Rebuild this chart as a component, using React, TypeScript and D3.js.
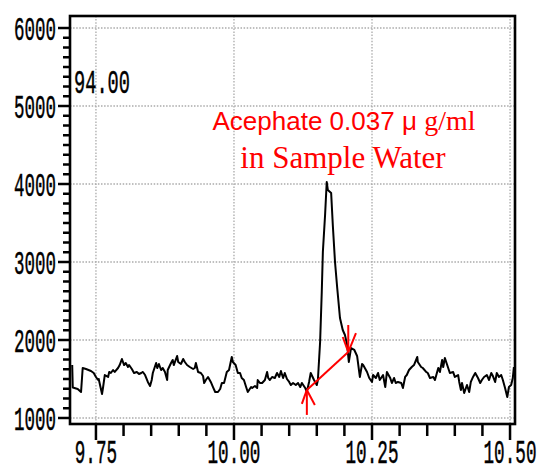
import * as d3 from "d3";

// retention time (min) and abundance
const times = [
  9.707, 9.708, 9.717, 9.723, 9.726, 9.732, 9.741, 9.746, 9.75, 9.754, 9.755, 9.761, 9.763, 9.766,
  9.772, 9.774, 9.777, 9.781, 9.784, 9.79, 9.793, 9.797, 9.801, 9.804, 9.808, 9.81, 9.815, 9.819,
  9.824, 9.828, 9.832, 9.835, 9.839, 9.844, 9.848, 9.851, 9.853, 9.859, 9.861, 9.864, 9.868, 9.871,
  9.875, 9.879, 9.88, 9.886, 9.889, 9.891, 9.897, 9.899, 9.904, 9.908, 9.911, 9.915, 9.92, 9.926,
  9.929, 9.931, 9.935, 9.94, 9.944, 9.946, 9.949, 9.953, 9.958, 9.962, 9.966, 9.971, 9.975, 9.978,
  9.982, 9.987, 9.991, 9.996, 9.998, 10.003, 10.007, 10.011, 10.014, 10.018, 10.022, 10.025, 10.031,
  10.033, 10.038, 10.042, 10.043, 10.047, 10.051, 10.056, 10.06, 10.062, 10.065, 10.069, 10.074,
  10.078, 10.082, 10.085, 10.089, 10.092, 10.096, 10.1, 10.103, 10.107, 10.112, 10.116, 10.12,
  10.123, 10.129, 10.132, 10.136, 10.139, 10.145, 10.15, 10.152, 10.156, 10.159, 10.161, 10.165,
  10.168, 10.17, 10.176, 10.179, 10.183, 10.187, 10.192, 10.197, 10.201, 10.205, 10.208, 10.212,
  10.218, 10.223, 10.228, 10.232, 10.234, 10.238, 10.241, 10.245, 10.25, 10.252, 10.257, 10.261,
  10.264, 10.27, 10.274, 10.277, 10.283, 10.286, 10.29, 10.293, 10.297, 10.303, 10.306, 10.31,
  10.313, 10.317, 10.322, 10.326, 10.332, 10.333, 10.339, 10.342, 10.348, 10.351, 10.355, 10.361,
  10.364, 10.37, 10.373, 10.377, 10.379, 10.382, 10.388, 10.391, 10.397, 10.4, 10.406, 10.408,
  10.411, 10.413, 10.417, 10.422, 10.426, 10.429, 10.433, 10.437, 10.442, 10.446, 10.449, 10.453,
  10.458, 10.462, 10.466, 10.469, 10.473, 10.476, 10.48, 10.484, 10.487, 10.491, 10.495, 10.498,
  10.502, 10.505, 10.507,
];
const abundance = [
  1680, 1390, 1372, 1333, 1641, 1628, 1603, 1577, 1526, 1487, 1500, 1308, 1397, 1551,
  1526, 1590, 1577, 1615, 1590, 1641, 1679, 1756, 1679, 1705, 1654, 1679, 1628, 1577,
  1590, 1564, 1577, 1590, 1551, 1462, 1410, 1487, 1577, 1705, 1641, 1692, 1615, 1641,
  1590, 1487, 1615, 1705, 1744, 1679, 1795, 1718, 1692, 1756, 1718, 1679, 1654, 1628,
  1641, 1705, 1590, 1577, 1538, 1449, 1487, 1526, 1462, 1397, 1333, 1333, 1372, 1449,
  1449, 1590, 1615, 1782, 1718, 1679, 1577, 1577, 1513, 1487, 1397, 1333, 1397,
  1385, 1410, 1385, 1487, 1449, 1449, 1487, 1590, 1513, 1487, 1526, 1513,
  1577, 1526, 1603, 1513, 1577, 1500, 1462, 1423, 1449, 1423, 1449, 1397,
  1449, 1385, 1333, 1462, 1577, 1487, 1423, 1487, 1974, 2615, 3128, 3602,
  4026, 3923, 3885, 3474, 3000, 2667, 2282, 2128, 2064, 1936, 1718, 1897,
  1872, 1795, 1526, 1692, 1679, 1628, 1590, 1513, 1462, 1551, 1513, 1577,
  1487, 1551, 1397, 1590, 1513, 1449, 1513, 1449, 1462, 1449, 1385, 1526,
  1551, 1615, 1654, 1679, 1782, 1718, 1654, 1641, 1590, 1577, 1513, 1526,
  1487, 1641, 1590, 1744, 1654, 1769, 1641, 1577, 1590, 1526, 1551, 1462,
  1359, 1449, 1321, 1423, 1333, 1462, 1526, 1577, 1513, 1449, 1487, 1526,
  1551, 1487, 1577, 1538, 1462, 1577, 1526, 1551, 1487, 1385, 1269, 1397,
  1423, 1513, 1654,
];

const xMajorTicks = [9.75, 10.0, 10.25, 10.5];
const xTickLabels = ["9.75", "10.00", "10.25", "10.50"];
const xMinorTicks = [9.8, 9.85, 9.9, 9.95, 10.05, 10.1, 10.15, 10.2, 10.3, 10.35, 10.4, 10.45];
const yMajorTicks = [1000, 2000, 3000, 4000, 5000, 6000];
const yTickLabels = ["1000", "2000", "3000", "4000", "5000", "6000"];
const yMinorStep = 125;

const ionLabel = "94.00";
const noteLines = ["Acephate 0.037 \u03bc ", "g/ml", "in Sample Water"];
// integration baseline start / end (time, abundance)
const baseStart = [10.132, 1360];
const baseEnd = [10.207, 1846];

const W = 542;
const H = 467;
const plot = { left: 70, right: 515, top: 16, bottom: 424 };
const RED = "#ff0000";
const MONO = "'Liberation Mono', 'DejaVu Sans Mono', monospace";

export default function App() {
  const x = d3.scaleLinear().domain([9.703, 10.509]).range([plot.left, plot.right]);
  const y = d3.scaleLinear().domain([923, 6154]).range([plot.bottom, plot.top]);

  const pts = times.map((t, i) => [t, abundance[i]] as [number, number]);
  const line = d3
    .line<[number, number]>()
    .x((d) => x(d[0]))
    .y((d) => y(d[1]));

  const yMinor = d3
    .range(1000, 6001, yMinorStep)
    .filter((v) => v % 1000 !== 0);

  const sx = x(baseStart[0]),
    sy = y(baseStart[1]);
  const ex = x(baseEnd[0]),
    ey = y(baseEnd[1]);

  return (
    <svg
      width={W}
      height={H}
      style={{ position: "absolute", left: 0, top: 0, background: "#fff" }}
    >
      {/* grid */}
      <g stroke="#aaa" strokeWidth={1.3} strokeDasharray="1.5,1.6">
        {yMajorTicks.map((v) => (
          <line key={"gy" + v} x1={plot.left} x2={plot.right} y1={y(v)} y2={y(v)} />
        ))}
        {xMajorTicks.map((v) => (
          <line key={"gx" + v} x1={x(v)} x2={x(v)} y1={plot.top} y2={plot.bottom} />
        ))}
      </g>

      {/* trace */}
      <path d={line(pts) || ""} fill="none" stroke="#000" strokeWidth={2} strokeLinejoin="round" />

      {/* baseline marks */}
      <g stroke={RED} strokeWidth={2} fill="none">
        <line x1={sx} y1={sy} x2={ex} y2={ey} />
        <line x1={sx} y1={sy} x2={sx} y2={sy + 25} />
        <line x1={sx} y1={sy} x2={sx - 5} y2={sy + 14} />
        <line x1={sx} y1={sy} x2={sx + 8} y2={sy + 15} />
        <line x1={ex} y1={ey} x2={ex} y2={ey - 27} />
        <line x1={ex} y1={ey} x2={ex - 5.5} y2={ey - 15} />
        <line x1={ex} y1={ey} x2={ex + 7.7} y2={ey - 19} />
      </g>

      {/* frame */}
      <rect
        x={plot.left}
        y={plot.top}
        width={plot.right - plot.left}
        height={plot.bottom - plot.top}
        fill="none"
        stroke="#000"
        strokeWidth={2.6}
      />

      {/* ticks */}
      <g stroke="#000" strokeWidth={2.5}>
        {yMajorTicks.map((v) => (
          <line key={"ty" + v} x1={plot.left - 12} x2={plot.left} y1={y(v)} y2={y(v)} />
        ))}
        {yMinor.map((v) => (
          <line key={"my" + v} x1={plot.left - 7} x2={plot.left} y1={y(v)} y2={y(v)} />
        ))}
        {xMajorTicks.map((v) => (
          <line key={"tx" + v} x1={x(v)} x2={x(v)} y1={plot.bottom} y2={plot.bottom + 16} />
        ))}
        {xMinorTicks.map((v) => (
          <line key={"mx" + v} x1={x(v)} x2={x(v)} y1={plot.bottom} y2={plot.bottom + 12} />
        ))}
      </g>

      {/* tick labels */}
      <g fontFamily={MONO} fontSize={34} fill="#000" stroke="#000" strokeWidth={0.5}>
        {yMajorTicks.map((v, i) => (
          <text
            key={"ly" + v}
            x={56}
            y={y(v) + 12}
            textAnchor="end"
            textLength={yTickLabels[i].length * 10.5}
            lengthAdjust="spacingAndGlyphs"
          >
            {yTickLabels[i]}
          </text>
        ))}
        {xMajorTicks.map((v, i) => (
          <text
            key={"lx" + v}
            x={x(v)}
            y={463}
            textAnchor="middle"
            textLength={xTickLabels[i].length * 10.6}
            lengthAdjust="spacingAndGlyphs"
          >
            {xTickLabels[i]}
          </text>
        ))}
        <text x={74} y={93} textLength={ionLabel.length * 11.2} lengthAdjust="spacingAndGlyphs">
          {ionLabel}
        </text>
      </g>

      {/* annotation */}
      <text x={344} y={130} textAnchor="middle" fill={RED} fontSize={26} fontFamily="'Liberation Sans', Arial, sans-serif">
        {noteLines[0]}
        <tspan fontFamily="'Liberation Serif', serif" fontSize={28}>
          {noteLines[1]}
        </tspan>
      </text>
      <text x={343} y={168} textAnchor="middle" fill={RED} fontSize={31} fontFamily="'Liberation Serif', serif">
        {noteLines[2]}
      </text>
    </svg>
  );
}
